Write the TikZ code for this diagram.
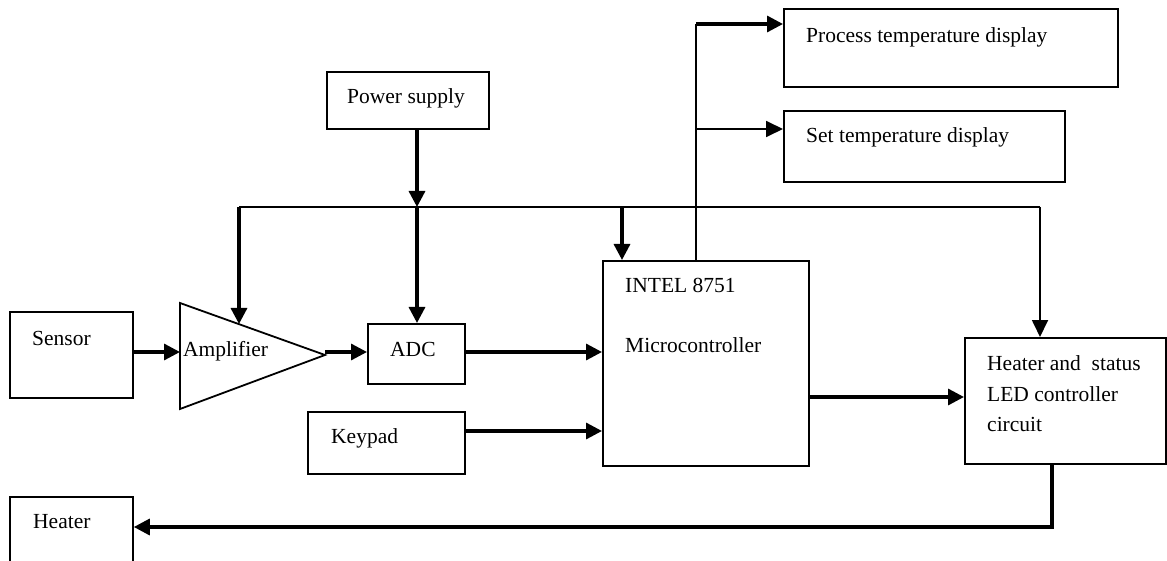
\documentclass[tikz,border=0pt]{standalone}
\usepackage{fontspec}
\setmainfont{Liberation Serif}
\usetikzlibrary{arrows.meta}
\begin{document}
\begin{tikzpicture}[x=1pt,y=-1pt,
  box/.style={draw,line width=1.8pt,rectangle,inner sep=0pt,anchor=north west},
  txt/.style={anchor=base west,inner sep=0pt,font=\fontsize{21.5}{26}\selectfont},
  thinline/.style={line width=1.8pt},
  thickline/.style={line width=3.3pt},
  thinarrow/.style={line width=1.8pt,-{Triangle[length=17pt,width=16pt]}},
  thickarrow/.style={line width=3.3pt,-{Triangle[length=16pt,width=16pt]}},
]
\useasboundingbox (0,0) rectangle (1167,561);
% boxes
\node[box,minimum width=123pt,minimum height=86pt] (sensor) at (9,311) {};
\node[box,minimum width=97pt,minimum height=60pt] (adc) at (367,323) {};
\node[box,minimum width=157pt,minimum height=62pt] (keypad) at (307,411) {};
\node[box,minimum width=162pt,minimum height=57pt] (power) at (326,71) {};
\node[box,minimum width=206pt,minimum height=205pt] (micro) at (602,260) {};
\node[box,minimum width=334pt,minimum height=78pt] (proc) at (783,8) {};
\node[box,minimum width=281pt,minimum height=71pt] (setd) at (783,110) {};
\node[box,minimum width=201pt,minimum height=126pt] (hsc) at (964,337) {};
\node[box,minimum width=123pt,minimum height=66pt] (heater) at (9,496) {};
% amplifier
\coordinate (ampA) at (180,303);
\coordinate (ampB) at (180,409);
\coordinate (ampT) at (325,355);
\draw[line width=1.8pt,line join=miter] (ampA) -- (ampT) -- (ampB) -- cycle;
% texts
\node[txt] (tsensor) at (32,345) {Sensor};
\node[txt] (tamp) at (183,356) {Amplifier};
\node[txt] (tadc) at (390,356) {ADC};
\node[txt] (tkey) at (331,443) {Keypad};
\node[txt] (tpow) at (347,104) {Power supply};
\node[txt] (tintel) at (625,293) {INTEL 8751};
\node[txt] (tmicro) at (625,352) {Microcontroller};
\node[txt] (tproc) at (806,43) {Process temperature display};
\node[txt] (tset) at (806,143) {Set temperature display};
\node[txt] (th1) at (987,370) {Heater and\ \ status};
\node[txt] (th2) at (987,401) {LED controller};
\node[txt] (th3) at (987,431) {circuit};
\node[txt] (theat) at (33,528) {Heater};
% coordinates
\coordinate (busL) at (239,207);
\coordinate (busP) at (417,207);
\coordinate (busM) at (622,207);
\coordinate (busR) at (1040,207);
\coordinate (ampIn) at (239,324);
\coordinate (upTop) at (696,24);
\coordinate (upMid) at (696,129);
\coordinate (hBot) at (1052,527);
% connectors
\draw[thinline,line join=miter] (busL) -- (busR);
\draw[thickarrow] (busL) -- (ampIn);
\draw[thickarrow] (power.south -| busP) -- (busP);
\draw[thickarrow] (busP) -- (adc.north -| busP);
\draw[thickarrow] (busM) -- (micro.north -| busM);
\draw[thinarrow] (busR) -- (hsc.north -| busR);
\draw[thinline] (micro.north -| upTop) -- (upTop);
\draw[thickarrow] (upTop) -- (proc.west |- upTop);
\draw[thinarrow] (upMid) -- (setd.west |- upMid);
\draw[thickarrow] (sensor.east |- 0,352) -- (ampA |- 0,352);
\draw[thickarrow] (ampT |- 0,352) -- (adc.west |- 0,352);
\draw[thickarrow] (adc.east |- 0,352) -- (micro.west |- 0,352);
\draw[thickarrow] (keypad.east |- 0,431) -- (micro.west |- 0,431);
\draw[thickarrow] (micro.east |- 0,397) -- (hsc.west |- 0,397);
\draw[thickarrow,line join=miter] (hsc.south -| hBot) -- (hBot) -- (heater.east |- hBot);
\end{tikzpicture}
\end{document}
